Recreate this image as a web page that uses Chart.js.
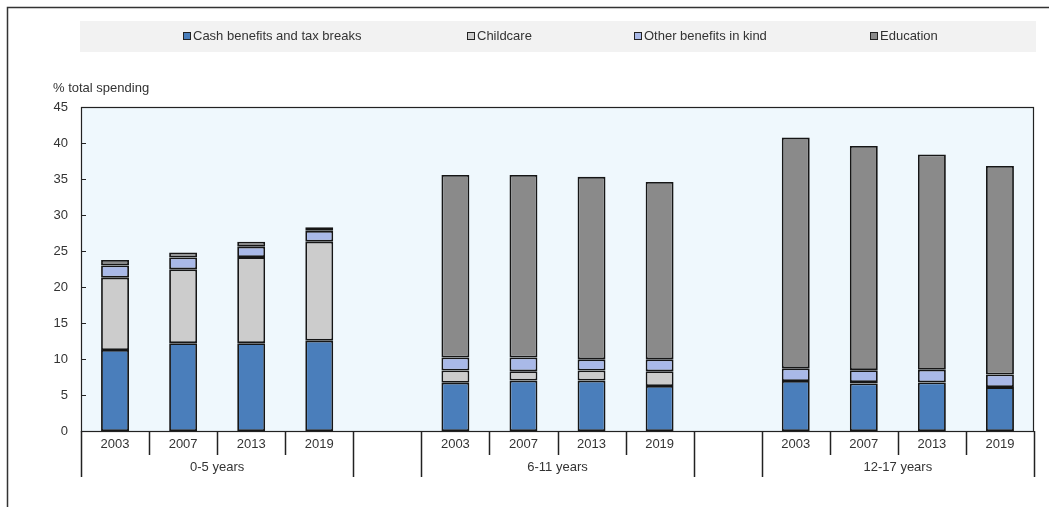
<!DOCTYPE html>
<html>
<head>
<meta charset="utf-8">
<script src="https://cdn.jsdelivr.net/npm/chart.js@4"></script>
<style>
  html,body{margin:0;padding:0;background:#fff;}
  canvas{display:block;}
</style>
</head>
<body>
<canvas id="c" width="1049" height="507"></canvas>
<script>
/* ---------- data ---------- */
const YEARS  = ['2003','2007','2013','2019'];
const LABELS = [...YEARS, '', ...YEARS, '', ...YEARS];
const GROUPS = ['0-5 years','6-11 years','12-17 years'];
const Y_TICKS = [0,5,10,15,20,25,30,35,40,45];

const cash      = [11.25,12.2,12.2,12.55, null, 6.7,7.0,7.0,6.25, null, 6.95,6.6,6.75,6.1];
const childcare = [10.05,10.25,11.95,13.75, null, 1.7,1.3,1.4,2.05, null, null,0.2,null,null];
const other     = [1.7,1.65,1.45,1.5, null, 1.8,1.9,1.55,1.65, null, 1.75,1.65,1.75,1.75];
const education = [0.75,0.7,0.7,0.5, null, 25.35,25.35,25.35,24.65, null, 32.05,31.15,29.9,28.95];

const SERIES = ['Cash benefits and tax breaks','Childcare','Other benefits in kind','Education'];
const COLORS = ['#4a7ebb','#cccccc','#a9b9e8','#8a8a8a'];

/* ---------- helpers ---------- */
const FAM  = '"Liberation Sans", Arial, sans-serif';
const FONT = '13px ' + FAM;
const TXT  = '#333';
const LEG_X = [183, 467, 634, 870];   // legend item positions

const decor = {
  id:'decor',
  beforeDraw(ch){
    const c = ch.ctx, a = ch.chartArea;
    c.save();
    c.fillStyle='#fff'; c.fillRect(0,0,ch.width,ch.height);
    // outer frame
    c.strokeStyle='#333'; c.lineWidth=1.5;
    c.beginPath(); c.moveTo(7.5,ch.height); c.lineTo(7.5,7.5); c.lineTo(ch.width,7.5); c.stroke();
    // legend strip
    c.fillStyle='#f2f2f2'; c.fillRect(80,21,956,31);
    c.font=FONT; c.textBaseline='middle'; c.textAlign='left';
    SERIES.forEach((s,i)=>{
      c.fillStyle=COLORS[i]; c.fillRect(LEG_X[i],32,8,8);
      c.strokeStyle='#222'; c.lineWidth=1; c.strokeRect(LEG_X[i]+0.5,32.5,7,7);
      c.fillStyle=TXT; c.fillText(s, LEG_X[i]+10, 36.5);
    });
    // y title
    c.fillText('% total spending', 53, 88);
    // plot background
    c.fillStyle='#eff8fd'; c.fillRect(a.left,a.top,a.right-a.left,a.bottom-a.top);
    c.restore();
  },
  afterDatasetsDraw(ch){
    const c = ch.ctx, a = ch.chartArea, xs = ch.scales.x, ys = ch.scales.y;
    c.save();
    c.strokeStyle='#222'; c.lineWidth=1.2;
    c.strokeRect(a.left+0.5,a.top+0.5,a.right-a.left-1,a.bottom-a.top);
    // inward y ticks
    c.beginPath();
    Y_TICKS.forEach(v=>{ const y=Math.round(ys.getPixelForValue(v))+0.5; c.moveTo(a.left,y); c.lineTo(a.left+5,y); });
    c.stroke();
    // category separators
    const half = (xs.getPixelForValue(1)-xs.getPixelForValue(0))/2;
    c.lineWidth=1.5; c.beginPath();
    for(let i=0;i<=LABELS.length;i++){
      const x = Math.round(i<LABELS.length ? xs.getPixelForValue(i)-half : xs.getPixelForValue(i-1)+half)+0.5;
      const inGroup = i%5>0 && i%5<4 && i!==LABELS.length;
      c.moveTo(x,a.bottom); c.lineTo(x, a.bottom + (inGroup ? 24 : 46));
    }
    c.stroke();
    // group labels
    c.fillStyle=TXT; c.font=FONT; c.textAlign='center'; c.textBaseline='middle';
    GROUPS.forEach((g,k)=>{
      const x0 = xs.getPixelForValue(k*5)-half, x1 = xs.getPixelForValue(k*5+3)+half;
      c.fillText(g,(x0+x1)/2, a.bottom+36);
    });
    c.restore();
  }
};

/* ---------- chart ---------- */
new Chart(document.getElementById('c'),{
  type:'bar',
  data:{
    labels:LABELS,
    datasets:[cash,childcare,other,education].map((d,i)=>({
      label:SERIES[i], data:d, backgroundColor:COLORS[i],
      borderColor:'#161616', borderWidth:1.8, borderSkipped:false,
      barPercentage:0.41, categoryPercentage:1
    }))
  },
  options:{
    responsive:false, animation:false,
    layout:{padding:{left:0,right:15,top:107,bottom:0}},
    plugins:{legend:{display:false}, tooltip:{enabled:false}},
    scales:{
      x:{
        stacked:true, grid:{display:false}, border:{display:false},
        ticks:{color:TXT, font:{family:FAM, size:13}, padding:-2, maxRotation:0, autoSkip:false},
        afterFit:s=>{ s.height = 76; }
      },
      y:{
        stacked:true, min:0, max:45,
        grid:{display:false}, border:{display:false},
        ticks:{stepSize:5, color:TXT, font:{family:FAM, size:13}, padding:5},
        afterFit:s=>{ s.width = 81; }
      }
    }
  },
  plugins:[decor]
});
</script>
</body>
</html>
